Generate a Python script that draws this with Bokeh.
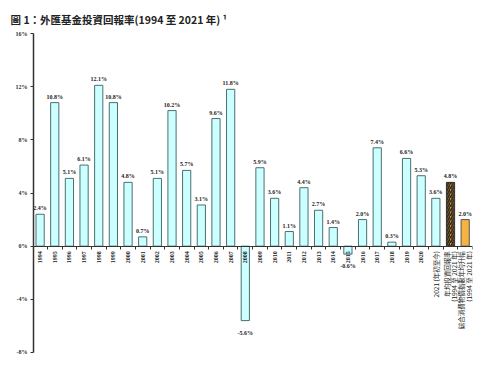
import math
from bokeh.plotting import figure
from bokeh.models import Range1d, FixedTicker, PrintfTickFormatter, ColumnDataSource
from bokeh.core.properties import value
from bokeh.embed import file_html
from bokeh.resources import INLINE

# ---- data ----
years = [str(y) for y in range(1994, 2021)]
extra_line1 = ["2021 (年初至今)", "年均投資回報率", "綜合消費物價指數年均升幅"]
extra_line2 = ["", "(1994 至 2021 年)", "(1994 至 2021 年)"]
annual_returns = [2.4, 10.8, 5.1, 6.1, 12.1, 10.8, 4.8, 0.7, 5.1, 10.2,
                  5.7, 3.1, 9.6, 11.8, -5.6, 5.9, 3.6, 1.1, 4.4, 2.7,
                  1.4, -0.6, 2.0, 7.4, 0.3, 6.6, 5.3, 3.6]
avg_return = [4.8]
cpi_avg = [2.0]
y_ticks = [-8, -4, 0, 4, 8, 12, 16]
title_text = "圖 1：外匯基金投資回報率(1994 至 2021 年) ¹"

n = len(years) + len(extra_line1)
idx = list(range(n))
ret_idx = idx[:len(annual_returns)]
avg_idx = [len(annual_returns)]
cpi_idx = [len(annual_returns) + 1]
ext_idx = idx[len(years):]

serif = "Liberation Serif"
cjk = "Noto Sans CJK TC"

p = figure(width=484, height=354, output_backend="svg", toolbar_location=None,
           x_range=Range1d(-0.45, n - 0.5), y_range=Range1d(y_ticks[0], y_ticks[-1]),
           min_border_left=33, min_border_right=12, min_border_top=33, min_border_bottom=2)
p.outline_line_color = None
p.grid.visible = False

p.title.text = title_text
p.title.text_font = cjk
p.title.text_font_size = "10.5px"
p.title.text_font_style = "bold"
p.title.text_color = "#222222"
p.title.offset = -23
p.title.standoff = 14

# y axis
p.yaxis.ticker = FixedTicker(ticks=y_ticks)
p.yaxis.formatter = PrintfTickFormatter(format="%d%%")
p.yaxis.major_label_text_font = serif
p.yaxis.major_label_text_font_style = "bold"
p.yaxis.major_label_text_font_size = "6px"
p.yaxis.major_label_text_color = "#333333"
p.yaxis.major_tick_in = 0
p.yaxis.major_tick_out = 3
p.yaxis.minor_tick_out = 0
p.yaxis.minor_tick_in = 0
p.yaxis.axis_line_width = 1.5
p.yaxis.axis_line_color = "#333333"
p.yaxis.major_tick_line_color = "#333333"
p.yaxis.major_label_standoff = 3

# x axis at zero with ticks between categories
p.xaxis.fixed_location = 0
p.xaxis.ticker = FixedTicker(ticks=[i + 0.5 for i in idx])
p.xaxis.major_label_text_alpha = 0
p.xaxis.major_label_text_font_size = "1px"
p.xaxis.major_label_standoff = 0
p.xaxis.major_tick_in = 0
p.xaxis.major_tick_out = 3
p.xaxis.minor_tick_out = 0
p.xaxis.minor_tick_in = 0
p.xaxis.axis_line_width = 1.2
p.xaxis.axis_line_color = "#333333"
p.xaxis.major_tick_line_color = "#333333"

# bars
p.vbar(x=ret_idx, top=annual_returns, width=0.56, bottom=0,
       fill_color="#CCFFFF", line_color="#4A7070", line_width=1)
p.vbar(x=avg_idx, top=avg_return, width=0.56, bottom=0,
       fill_color="#F0A22E", line_color="#333333", line_width=1,
       hatch_pattern="right_diagonal_line", hatch_color="#222222",
       hatch_weight=1.6, hatch_scale=4.5)
p.vbar(x=cpi_idx, top=cpi_avg, width=0.56, bottom=0,
       fill_color="#F5B342", line_color="#555555", line_width=1)

# value labels
all_vals = annual_returns + avg_return + cpi_avg
pos = ColumnDataSource(dict(x=[i for i, v in zip(idx, all_vals) if v >= 0],
                            y=[v for v in all_vals if v >= 0],
                            t=[f"{v:.1f}%" for v in all_vals if v >= 0]))
neg = ColumnDataSource(dict(x=[i for i, v in zip(idx, all_vals) if v < 0],
                            y=[v for v in all_vals if v < 0],
                            t=[f"{v:.1f}%" for v in all_vals if v < 0]))
lbl_kw = dict(text_font=value(serif), text_font_style="bold", text_font_size="6px",
              text_color="#222222", text_align="center")
p.text(x="x", y="y", text="t", source=pos, text_baseline="bottom", y_offset=-3, **lbl_kw)
p.text(x="x", y="y", text="t", source=neg, text_baseline="top", y_offset=9, **lbl_kw)

# category labels (rotated)
yr_src = ColumnDataSource(dict(x=idx[:len(years)], y=[0] * len(years), t=years))
p.text(x="x", y="y", text="t", source=yr_src, angle=math.pi / 2,
       text_align="right", text_baseline="middle", y_offset=5,
       text_font=value(serif), text_font_style="bold", text_font_size="6px",
       text_color="#222222")
has2 = [bool(s) for s in extra_line2]
l1_src = ColumnDataSource(dict(x=ext_idx, y=[0] * len(ext_idx), t=extra_line1,
                               dx=[-3.8 if h else 0 for h in has2]))
l2_src = ColumnDataSource(dict(x=[i for i, h in zip(ext_idx, has2) if h],
                               y=[0] * sum(has2),
                               t=[s for s in extra_line2 if s]))
cjk_kw = dict(angle=math.pi / 2, text_align="right", text_baseline="middle", y_offset=5,
              text_font=value(cjk), text_font_style="normal", text_font_size="6.5px",
              text_color="#222222")
p.text(x="x", y="y", text="t", source=l1_src, x_offset="dx", **cjk_kw)
p.text(x="x", y="y", text="t", source=l2_src, x_offset=3.8, **cjk_kw)

open("out.html", "w").write(file_html(p, INLINE))
